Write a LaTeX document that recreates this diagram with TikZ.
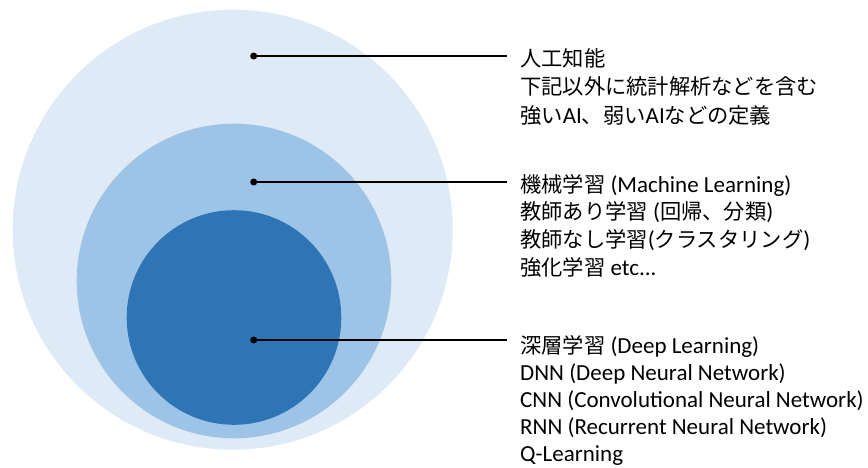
\documentclass[tikz,border=0pt]{standalone}
\usepackage{fontspec}
\setmainfont{Carlito}
\newfontfamily\cjk[Scale=0.925]{Noto Sans CJK JP}
\definecolor{cA}{HTML}{DEEAF6}
\definecolor{cB}{HTML}{9DC3E6}
\definecolor{cC}{HTML}{2E75B6}
\begin{document}
\begin{tikzpicture}[x=1pt,y=-1pt,
  lbl/.style={anchor=base west,inner sep=0pt,font=\fontsize{23}{27}\selectfont},
  dot/.style={circle,fill=black,inner sep=0pt,minimum size=7pt},
  lead/.style={line width=1.6pt}]
\useasboundingbox (0,0) rectangle (868,467);
\fill[cA] (232.7,229.7) circle[radius=220];
\fill[cB] (234,281) circle[radius=157.3];
\fill[cC] (234,317.5) circle[radius=107.3];
\node[dot] (d1) at (253.7,56) {};
\node[dot] (d2) at (253.7,182) {};
\node[dot] (d3) at (253.7,340) {};
% group 1
\node[lbl] (a1) at (520,66) {{\cjk 人工知能}};
\node[lbl] (a2) at (520,94.5) {{\cjk 下記以外に統計解析などを含む}};
\node[lbl] (a3) at (520,123) {{\cjk 強い}AI{\cjk 、弱い}AI{\cjk などの定義}};
% group 2
\node[lbl] (b1) at (520,192) {{\cjk 機械学習} (Machine Learning)};
\node[lbl] (b2) at (520,219.7) {{\cjk 教師あり学習} ({\cjk 回帰、分類})};
\node[lbl] (b3) at (520,247.4) {{\cjk 教師なし学習}({\cjk クラスタリング})};
\node[lbl] (b4) at (520,275) {{\cjk 強化学習} etc...};
% group 3
\node[lbl] (c1) at (520,353) {{\cjk 深層学習} (Deep Learning)};
\node[lbl] (c2) at (520,380) {DNN (Deep Neural Network)};
\node[lbl] (c3) at (520,407) {CNN (Convolutional Neural Network)};
\node[lbl] (c4) at (520,434) {RNN (Recurrent Neural Network)};
\node[lbl] (c5) at (520,461) {Q-Learning};
\coordinate (e1) at (507,56);
\coordinate (e2) at (507,182);
\coordinate (e3) at (507,340);
\draw[lead] (d1.center) -- (e1);
\draw[lead] (d2.center) -- (e2);
\draw[lead] (d3.center) -- (e3);
\end{tikzpicture}
\end{document}
